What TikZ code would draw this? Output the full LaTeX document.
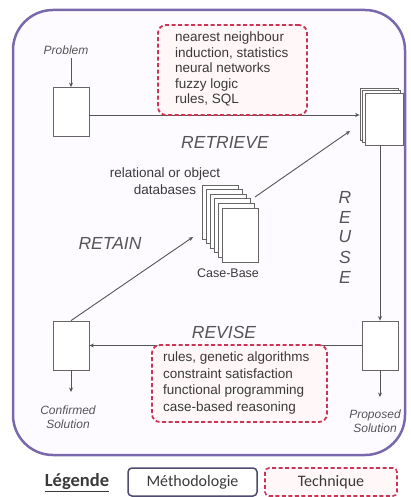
\documentclass[tikz,border=0pt]{standalone}
\usepackage{fontspec}
\setmainfont{Liberation Sans}
\newfontfamily\legendfont{Carlito}
\usetikzlibrary{arrows.meta,calc}

\definecolor{framepurple}{HTML}{7A68AD}
\definecolor{framefill}{HTML}{FDFBFF}
\definecolor{techred}{HTML}{CC3355}
\definecolor{techfill}{HTML}{FFF7F8}
\definecolor{linegray}{HTML}{555555}
\definecolor{docgray}{HTML}{666666}
\definecolor{textgray}{HTML}{3A3A3A}
\definecolor{labelgray}{HTML}{555555}
\definecolor{legendborder}{HTML}{4E4B6E}

\begin{document}
\begin{tikzpicture}[x=1pt,y=-1pt,
  frame/.style={draw=framepurple, line width=2.5pt, fill=framefill, rounded corners=40pt},
  techbox/.style={draw=techred, dash pattern=on 4pt off 2.5pt, line width=1.8pt, fill=techfill,
    rounded corners=8pt, inner sep=0pt},
  techtext/.style={text=textgray, align=left, inner sep=0pt, anchor=west},
  docpage/.style={draw=docgray, fill=white, line width=0.8pt, inner sep=0pt,
    minimum width=36pt, minimum height=49pt},
  flow/.style={draw=linegray, line width=0.9pt, -{Stealth[length=4.5pt,width=4pt]}},
  phase/.style={font=\fontsize{17.5}{20}\selectfont\itshape, text=labelgray},
  caption/.style={font=\fontsize{12}{14}\selectfont\itshape, text=labelgray, align=center},
  plain/.style={font=\fontsize{13.5}{17}\selectfont, text=textgray, align=center},
  legendbox/.style={rounded corners=4pt, minimum height=28pt, inner sep=0pt,
    font=\legendfont\fontsize{16}{18}\selectfont, text=textgray}
]
\useasboundingbox (0,0) rectangle (410,497);

% outer methodology frame
\draw[frame] (13,10) rectangle (405,455);

% single documents
\node[docpage] (prob) at (71,112) {};
\node[docpage] (conf) at (71,345.5) {};
\node[docpage] (prop) at (380,345.5) {};

% retrieved cases (small stack)
\node[docpage, minimum width=38pt, minimum height=52pt] (sb) at (379,114) {};
\node[docpage, minimum width=38pt, minimum height=52pt] at (381.5,116.5) {};
\node[docpage, minimum width=38pt, minimum height=52pt] (sol) at (384,119) {};

% case base (large stack)
\foreach \i in {0,...,4}
  \node[docpage, minimum height=54pt] at (220+4*\i, 212+4.6*\i) {};
\node[docpage, minimum height=54pt] (cb) at (240,235) {};

% free ends of connectors
\coordinate (probout) at ($(prob.east)+(0,3)$);
\coordinate (cbout) at (255,197);
\coordinate (stackin) at (350,131);
\coordinate (cbin) at (193,237);
\coordinate (conftail) at (71,392);
\coordinate (proptail) at (380,397);

% labels
\node[caption] (problabel) at (66,50) {Problem};
\node[caption] (conflabel) at (68,417) {Confirmed\\Solution};
\node[caption, font=\fontsize{12}{13.5}\selectfont\itshape] (proplabel) at (375,421) {Proposed\\Solution};
\node[plain] (dblabel) at (165,181) {relational or object\\databases};
\node[plain, font=\fontsize{12.5}{14}\selectfont] (cblabel) at (228,273) {Case-Base};

\node[phase] (retrieve) at (225,142) {RETRIEVE};
\node[phase] (retain) at (110,243) {RETAIN};
\node[phase] (revise) at (224,332) {REVISE};
\foreach \l [count=\k from 0] in {R,E,U,S,E}
  \node[phase] (reuse\k) at (345,197+20*\k) {\l};

% cycle connectors
\draw[flow] (prob.north |- problabel.south) -- (prob.north);
\draw[flow] (probout) -- (probout -| sb.west);
\draw[flow] (cbout) -- (stackin);
\draw[flow] (sol.south -| prop.north) -- (prop.north);
\draw[flow] (prop.west) -- (conf.east);
\draw[flow] (conf.north) -- (cbin);
\draw[flow] (conf.south) -- (conftail);
\draw[flow] (prop.south) -- (proptail);

% techniques
\node[techbox, minimum width=149pt, minimum height=90pt] (rettech) at (232.5,70) {};
\node[techtext, font=\fontsize{13.5}{15.5}\selectfont] (rettext) at (175,69)
  {nearest neighbour\\induction, statistics\\neural networks\\fuzzy logic\\rules, SQL};
\node[techbox, minimum width=175pt, minimum height=77pt] (revtech) at (239.5,383.5) {};
\node[techtext, font=\fontsize{13.5}{16.5}\selectfont] (revtext) at (163,383)
  {rules, genetic algorithms\\constraint satisfaction\\functional programming\\case-based reasoning};

% legend
\node[font=\legendfont\bfseries\fontsize{18.5}{20}\selectfont, text=textgray] (legend) at (77,483) {\underline{Légende}};
\node[legendbox, draw=legendborder, line width=1.5pt, fill=white, minimum width=129pt] (methkey) at (192.5,482) {Méthodologie};
\node[legendbox, draw=techred, dash pattern=on 4pt off 2.5pt, line width=1.6pt, fill=techfill, minimum width=132pt] (techkey) at (331,482) {Technique};
\end{tikzpicture}
\end{document}
